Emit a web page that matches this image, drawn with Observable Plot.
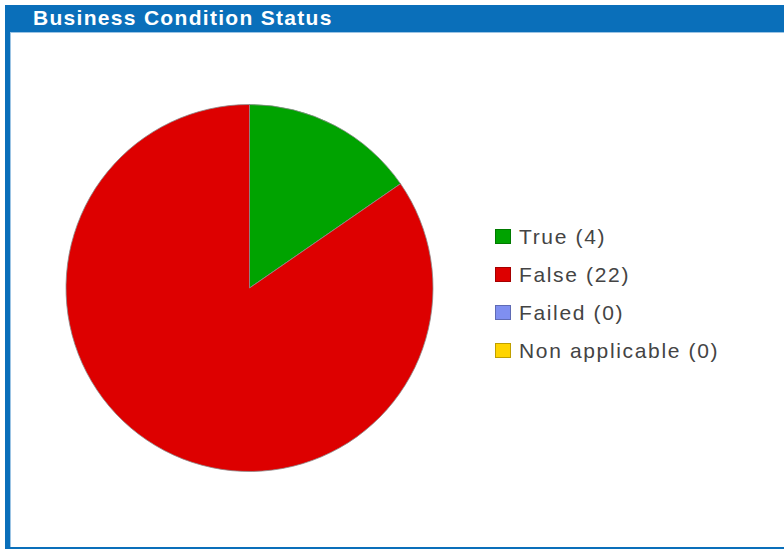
<!DOCTYPE html>
<html>
<head>
<meta charset="utf-8">
<script src="https://cdn.jsdelivr.net/npm/d3@7"></script>
<script src="https://cdn.jsdelivr.net/npm/@observablehq/plot@0.6"></script>
<style>
  html, body { margin: 0; padding: 0; background: #ffffff; overflow: hidden; }
  body { width: 784px; height: 550px; position: relative; font-family: "Liberation Sans", Arial, sans-serif; }
  #frame { position: absolute; left: 5px; top: 5px; width: 800px; height: 544px; background: #0a6fba; }
  #title { position: absolute; left: 33px; top: 7px; line-height: 21px; font-size: 21px; font-weight: bold; color: #ffffff; letter-spacing: 1.3px; white-space: nowrap; }
  #panel { position: absolute; left: 10px; top: 32px; width: 790px; height: 514px; background: #ffffff; border-top: 1px solid #9cc4e4; border-left: 1px solid #9cc4e4; }
  #chart { position: absolute; left: 11px; top: 34px; }
  #legend { position: absolute; left: 495px; top: 226.3px; }
  .row { position: relative; height: 38px; line-height: 21px; font-size: 21px; color: #444444; letter-spacing: 1.65px; white-space: nowrap; }
  .sw { position: absolute; left: 0; top: 3px; width: 14px; height: 13px; border: 1px solid rgba(0,0,0,0.25); }
  .lbl { position: absolute; left: 24px; top: 0; }
</style>
</head>
<body>
<div id="frame"></div>
<div id="title">Business Condition Status</div>
<div id="panel"></div>
<div id="chart"></div>
<div id="legend"></div>
<script>
const categories = ["True", "False", "Failed", "Non applicable"];
const counts = [4, 22, 0, 0];
const colors = ["#00a300", "#dd0000", "#7f8ff0", "#ffd400"];

const data = categories.map((c, i) => ({category: c, count: counts[i], color: colors[i]}));

function pieMark(index, scales) {
  const cx = scales.x(0), cy = scales.y(0);
  const r = scales.x(1) - cx;
  const arcs = d3.pie().sort(null).value(d => d.count)(data).filter(a => a.data.count > 0);
  const arc = d3.arc().innerRadius(0).outerRadius(r);
  const g = d3.create("svg:g").attr("transform", `translate(${cx},${cy})`);
  g.selectAll("path").data(arcs).join("path")
    .attr("d", arc)
    .attr("fill", d => d.data.color)
    .attr("stroke", "#8c8c8c")
    .attr("stroke-width", 0.8)
    .attr("stroke-linejoin", "round");
  return g.node();
}

const svg = Plot.plot({
  width: 773,
  height: 513,
  margin: 0,
  x: {domain: [-1, 1], range: [55, 422], axis: null},
  y: {domain: [-1, 1], range: [437.5, 70.5], axis: null},
  style: {background: "transparent", overflow: "visible"},
  marks: [
    Plot.dot([[-1, -1], [1, 1]], {x: d => d[0], y: d => d[1], r: 0, stroke: "none"}),
    pieMark
  ]
});
document.getElementById("chart").appendChild(svg);

const legend = document.getElementById("legend");
data.forEach(d => {
  const row = document.createElement("div");
  row.className = "row";
  const sw = document.createElement("span");
  sw.className = "sw";
  sw.style.background = d.color;
  const lbl = document.createElement("span");
  lbl.className = "lbl";
  lbl.textContent = `${d.category} (${d.count})`;
  row.appendChild(sw);
  row.appendChild(lbl);
  legend.appendChild(row);
});
</script>
</body>
</html>
